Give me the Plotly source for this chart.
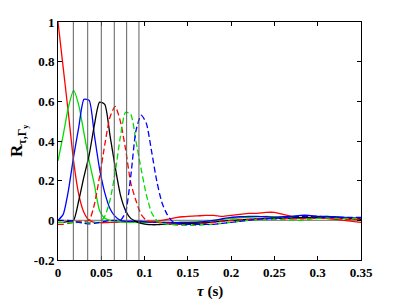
import plotly.graph_objects as go

# ---- data ----
pulse_x = [0, .006, .012, .018, .024, .030, .036, .042, .048, .054, .060, .066, .072,
           .078, .084, .090, .096, .102, .108, .114, .120, .126, .132, .138, .144, .150]
tail_x = [.16, .17, .18, .19, .20, .21, .22, .23, .24, .25, .26, .27, .28, .29, .30,
          .31, .32, .33, .34, .35]

red_solid = [1.0, 0.77, 0.54, 0.30, 0.13, 0.04, 0.0, -0.01, -0.012, -0.012, -0.01, -0.01,
             -0.008, -0.006, -0.005, -0.005, -0.006, -0.007, -0.006, -0.004, 0.0, 0.005,
             0.01, 0.015, 0.018, 0.02,
             0.022, 0.025, 0.025, 0.02, 0.025, 0.03, 0.035, 0.035, 0.04, 0.04, 0.03, 0.02,
             0.015, 0.01, 0.01, 0.01, 0.005, 0.0, -0.005, -0.01]
green_solid = [0.30, 0.43, 0.57, 0.655, 0.58, 0.44, 0.30, 0.18, 0.05, 0.01, 0.0, -0.005,
               -0.008, -0.01, -0.01, -0.01, -0.012, -0.012, -0.01, -0.01, -0.01, -0.012,
               -0.012, -0.01, -0.01, -0.01,
               -0.008, -0.005, 0.0, 0.005, 0.01, 0.012, 0.015, 0.018, 0.02, 0.018, 0.015,
               0.01, 0.01, 0.012, 0.015, 0.02, 0.018, 0.015, 0.012, 0.01]
blue_solid = [0.0, 0.03, 0.15, 0.32, 0.47, 0.61, 0.605, 0.43, 0.26, 0.14, 0.06, 0.02, 0.0,
              -0.005, -0.005, -0.005, -0.006, -0.008, -0.01, -0.01, -0.01, -0.01, -0.012,
              -0.012, -0.01, -0.01,
              -0.01, -0.005, 0.0, 0.008, 0.015, 0.018, 0.02, 0.02, 0.018, 0.015, 0.018,
              0.02, 0.025, 0.025, 0.02, 0.02, 0.018, 0.015, 0.012, 0.01]
black_solid = [-0.01, -0.01, -0.005, 0.0, 0.10, 0.22, 0.33, 0.48, 0.596, 0.585, 0.43, 0.27,
               0.13, 0.05, 0.01, -0.005, -0.015, -0.02, -0.022, -0.022, -0.02, -0.02,
               -0.018, -0.018, -0.016, -0.015,
               -0.015, -0.012, -0.008, -0.004, 0.0, 0.002, 0.005, 0.008, 0.01, 0.01, 0.01,
               0.012, 0.014, 0.015, 0.015, 0.014, 0.012, 0.01, 0.008, 0.005]
red_dashed = [-0.02, -0.02, -0.015, -0.01, -0.005, -0.005, 0.0, 0.08, 0.22, 0.38, 0.52,
              0.575, 0.50, 0.36, 0.19, 0.10, 0.03, 0.0, -0.008, -0.01, -0.012, -0.015,
              -0.018, -0.02, -0.02, -0.02,
              -0.02, -0.015, -0.01, -0.005, 0.0, 0.003, 0.005, 0.008, 0.01, 0.01, 0.01,
              0.008, 0.008, 0.01, 0.01, 0.01, 0.008, 0.006, 0.005, 0.005]
green_dashed = [-0.01, -0.01, -0.012, -0.012, -0.01, -0.01, -0.01, -0.01, -0.01, 0.02,
                0.10, 0.24, 0.42, 0.545, 0.535, 0.40, 0.26, 0.13, 0.04, 0.0, -0.015,
                -0.02, -0.022, -0.025, -0.025, -0.025,
                -0.025, -0.022, -0.02, -0.015, -0.01, -0.005, 0.0, 0.002, 0.004, 0.005,
                0.004, 0.002, 0.0, 0.005, 0.01, 0.012, 0.01, 0.01, 0.01, 0.01]
blue_dashed = [0.0, 0.0, 0.0, -0.005, -0.01, -0.015, -0.018, -0.015, -0.01, -0.005, 0.0,
               0.0, 0.0, 0.04, 0.22, 0.45, 0.53, 0.49, 0.35, 0.20, 0.09, 0.03, -0.005,
               -0.015, -0.02, -0.02,
               -0.02, -0.02, -0.02, -0.015, -0.01, -0.005, 0.0, 0.005, 0.008, 0.01, 0.015,
               0.018, 0.02, 0.02, 0.02, 0.018, 0.016, 0.015, 0.015, 0.015]

marker_delays = [0.0177, 0.0343, 0.0500, 0.0650, 0.0793, 0.0935]

x_ticks = [0, 0.05, 0.1, 0.15, 0.2, 0.25, 0.3, 0.35]
x_ticklabels = ["0", "0.05", "0.1", "0.15", "0.2", "0.25", "0.3", "0.35"]
y_ticks = [-0.2, 0, 0.2, 0.4, 0.6, 0.8, 1]
y_ticklabels = ["-0.2", "0", "0.2", "0.4", "0.6", "0.8", "1"]

series = [
    (red_solid, "#ff0000", "solid"),
    (green_solid, "#00dd00", "solid"),
    (blue_solid, "#0000ff", "solid"),
    (black_solid, "#000000", "solid"),
    (red_dashed, "#ff0000", "6px,3px"),
    (green_dashed, "#00dd00", "6px,3px"),
    (blue_dashed, "#0000ff", "6px,3px"),
]

x_all = pulse_x + tail_x

fig = go.Figure()
for ys, col, dash in series:
    fig.add_trace(go.Scatter(x=x_all, y=ys, mode="lines",
                             line=dict(color=col, width=1.3, dash=dash, shape="spline",
                                       smoothing=0.6),
                             showlegend=False, hoverinfo="skip"))

shapes = [dict(type="line", xref="paper", yref="y", x0=0, x1=1, y0=0, y1=0,
               line=dict(color="#8c8c8c", width=1.2), layer="below")]
for d in marker_delays:
    shapes.append(dict(type="line", xref="x", yref="paper", x0=d, x1=d, y0=0, y1=1,
                       line=dict(color="#606060", width=1), layer="above"))

font_family = "Liberation Serif"
fig.update_layout(
    width=399, height=299,
    margin=dict(l=50, r=46, t=14, b=47, autoexpand=False),
    paper_bgcolor="white", plot_bgcolor="white",
    shapes=shapes,
    font=dict(family=font_family, color="black", size=13),
    annotations=[
        dict(text="<i>τ</i> (s)", xref="paper", yref="paper", x=0.5, y=0,
             yshift=-21, xanchor="center", yanchor="top", showarrow=False,
             font=dict(family=font_family, size=15, weight="bold")),
        dict(text="R<sub>τ,Γ<sub>y</sub></sub>", xref="paper", yref="paper", x=0, y=0.5,
             xshift=-40, xanchor="center", yanchor="middle", showarrow=False,
             textangle=-90, font=dict(family=font_family, size=17, weight="bold")),
    ],
)
fig.update_xaxes(range=[0, 0.35], tickvals=x_ticks, ticktext=x_ticklabels,
                 ticks="inside", ticklen=4, tickcolor="black", showline=True,
                 linecolor="black", linewidth=1, mirror="ticks", showgrid=False,
                 zeroline=False, automargin=False,
                 tickfont=dict(family=font_family, size=13, weight="bold"))
fig.update_yaxes(range=[-0.2, 1], tickvals=y_ticks, ticktext=y_ticklabels,
                 ticks="inside", ticklen=4, tickcolor="black", showline=True,
                 linecolor="black", linewidth=1, mirror="ticks", showgrid=False,
                 zeroline=False, automargin=False,
                 tickfont=dict(family=font_family, size=13, weight="bold"))

fig.write_html("out.html")
